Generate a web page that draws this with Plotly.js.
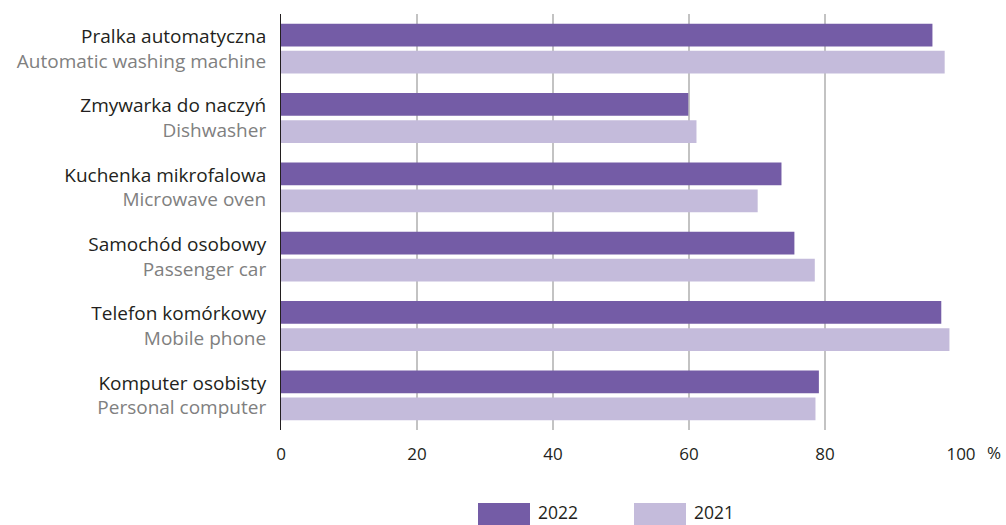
<!DOCTYPE html>
<html>
<head>
<meta charset="utf-8">
<script src="https://cdn.plot.ly/plotly-3.0.1.min.js"></script>
<style>html,body{margin:0;padding:0;background:#fff;}#chart{width:1006px;height:525px;}</style>
</head>
<body>
<div id="chart"></div>
<script>
const categoriesPl = ["Pralka automatyczna", "Zmywarka do naczyń", "Kuchenka mikrofalowa", "Samochód osobowy", "Telefon komórkowy", "Komputer osobisty"];
const categoriesEn = ["Automatic washing machine", "Dishwasher", "Microwave oven", "Passenger car", "Mobile phone", "Personal computer"];
const values2022 = [95.8, 59.9, 73.6, 75.5, 97.1, 79.1];
const values2021 = [97.6, 61.1, 70.1, 78.5, 98.3, 78.6];
const seriesNames = ["2022", "2021"];
const xTicks = [0, 20, 40, 60, 80, 100];

const colors = ["#745ca6", "#c4bbdb"];
const font = "'Open Sans', 'Noto Sans', sans-serif";

const tickText = categoriesPl.map((p, i) => p + "<br><span style='fill:#808080'>" + categoriesEn[i] + "</span>");

const traces = [values2022, values2021].map((vals, k) => ({
  type: "bar",
  orientation: "h",
  name: seriesNames[k],
  y: categoriesPl,
  x: vals,
  marker: {color: colors[k]},
  hoverinfo: "x+name",
  showlegend: false
}));

// custom legend swatches (large rectangles like the original)
const legendX = [478, 634];
const shapes = [];
const annotations = [];
seriesNames.forEach((n, k) => {
  shapes.push({type: "rect", xref: "paper", yref: "paper",
    x0: (legendX[k] - 281) / 680, x1: (legendX[k] + 52 - 281) / 680,
    y0: -(503 - 430) / 416, y1: -(525 - 430) / 416,
    fillcolor: colors[k], line: {width: 0}});
  annotations.push({xref: "paper", yref: "paper",
    x: (legendX[k] + 58 - 281) / 680, y: -(512 - 430) / 416,
    xanchor: "left", yanchor: "middle", showarrow: false, text: n,
    font: {family: font, size: 17.5, color: "#231f20"}});
});
annotations.push({xref: "x", yref: "paper", x: 100, y: -(453 - 430) / 416, xanchor: "left", yanchor: "middle",
  xshift: 24, showarrow: false, text: "%",
  font: {family: font, size: 17, color: "#231f20"}});

const layout = {
  width: 1006, height: 525,
  margin: {l: 281, r: 45, t: 14, b: 95, pad: 0},
  paper_bgcolor: "#fff", plot_bgcolor: "#fff",
  barmode: "group", bargap: 0.22, bargroupgap: 0.16,
  font: {family: font, size: 17, color: "#231f20"},
  xaxis: {
    range: [0, 100], tickvals: xTicks, ticktext: xTicks.map(String),
    showgrid: true, gridcolor: "#c3c3c3", gridwidth: 1.6,
    zeroline: false, showline: false, ticks: "", ticklabelstandoff: 12,
    tickfont: {family: font, size: 17, color: "#231f20"}, fixedrange: true
  },
  yaxis: {
    autorange: "reversed", tickvals: categoriesPl, ticktext: tickText,
    showline: true, linecolor: "#231f20", linewidth: 1,
    showgrid: false, zeroline: false, ticks: "", ticklabelstandoff: 10,
    tickfont: {family: font, size: 19, color: "#231f20"}, fixedrange: true
  },
  shapes: shapes,
  annotations: annotations,
  showlegend: false
};

Plotly.newPlot("chart", traces, layout, {displayModeBar: false, staticPlot: true});
</script>
</body>
</html>
